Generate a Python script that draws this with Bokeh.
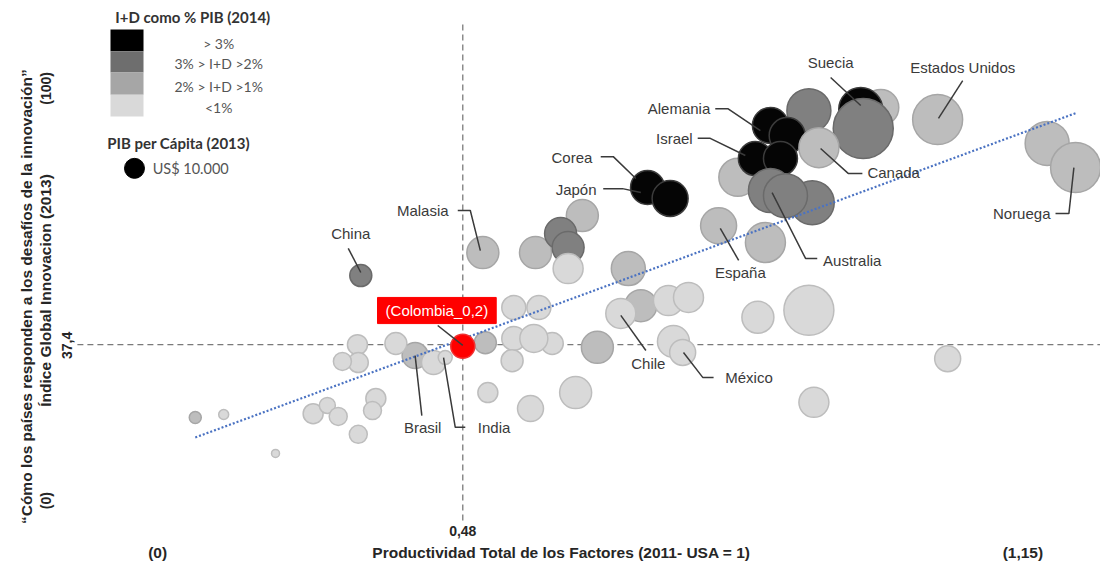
import numpy as np
from bokeh.plotting import figure
from bokeh.models import Range1d, ColumnDataSource
from bokeh.core.properties import value
from bokeh.embed import file_html
from bokeh.resources import INLINE

# ---------------- data ----------------
countries = ["", "Suecia", "", "", "Estados Unidos", "", "Noruega", "",
             "Alemania", "", "Israel", "", "Canada",
             "", "Australia", "", "Corea", "Japón", "España", "", "",
             "Malasia", "", "", "", "", "", "China",
             "", "Chile", "", "", "", "",
             "", "", "", "", "", "", "", "", "México",
             "", "", "", "", "", "", "Brasil", "", "India",
             "", "", "", "", "", "", "", "", "", "", "", ""]
tfp = [0.980, 0.956, 0.894, 0.959, 1.048, 1.179, 1.213, 0.809,
       0.848, 0.868, 0.830, 0.860, 0.906,
       0.898, 0.848, 0.866, 0.701, 0.728, 0.786, 0.842, 0.678,
       0.504, 0.567, 0.623, 0.597, 0.606, 0.606, 0.358,
       0.693, 0.669, 0.726, 0.750, 0.833, 0.894,
       0.541, 0.571, 0.541, 0.587, 0.565, 0.539, 0.641, 0.732, 0.743,
       0.615, 0.561, 0.510, 0.900, 1.060, 0.507, 0.423, 0.445, 0.459,
       0.400, 0.354, 0.355, 0.336, 0.376, 0.372, 0.301, 0.318, 0.331, 0.355,
       0.160, 0.194, 0.256]
gii = [98.2, 97.7, 97.4, 92.8, 95.1, 89.0, 82.8, 80.3,
       93.6, 91.0, 85.1, 85.1, 87.9,
       73.8, 76.9, 75.6, 77.7, 74.9, 67.9, 63.6, 56.9,
       61.0, 61.0, 70.5, 65.9, 62.3, 56.9, 55.1,
       47.4, 45.4, 48.7, 49.5, 44.4, 46.2,
       46.9, 46.9, 39.0, 37.7, 39.0, 33.3, 36.7, 38.2, 35.4,
       25.1, 21.0, 25.1, 22.6, 33.8, 37.9, 34.6, 32.8, 34.1,
       37.7, 37.4, 32.8, 33.1, 23.6, 20.5, 19.7, 21.8, 19.0, 14.4,
       18.7, 19.5, 9.5]
gdp_pc = [32400, 48400, 48400, 90000, 62500, 48400, 62500, 36100,
          32400, 32400, 28900, 28900, 40000,
          48400, 48400, 48400, 28900, 32400, 32400, 40000, 28900,
          25600, 25600, 25600, 25600, 25600, 22500, 12100,
          25600, 22500, 22500, 22500, 25600, 62500,
          14400, 14400, 14400, 12100, 19600, 12100, 25600, 25600, 16900,
          25600, 16900, 10000, 22500, 16900, 12100, 16900, 14400, 4900,
          12100, 10000, 10000, 8100, 10000, 8100, 10000, 6400, 8100, 8100,
          3600, 2500, 1600]
rd_cat = ["c", "a", "b", "b", "c", "c", "c", "c",
          "a", "a", "a", "a", "c",
          "b", "b", "b", "a", "a", "c", "c", "c",
          "c", "c", "c", "b", "b", "d", "b",
          "c", "d", "d", "d", "d", "d",
          "d", "d", "d", "d", "d", "d", "c", "d", "d",
          "d", "d", "d", "d", "d", "c", "c", "d", "d",
          "d", "d", "d", "d", "d", "d", "d", "d", "d", "d",
          "c", "d", "d"]

colombia_tfp, colombia_gii, colombia_gdp = 0.48, 37.0, 14400
ref_tfp, ref_gii = 0.48, 37.4
trend_tfp = [0.160, 1.215]
trend_gii = [13.6, 96.9]

legend_cats = ["a", "b", "c", "d"]
legend_labels = ["> 3%", "3% > I+D >2%", "2% > I+D >1%", "<1%"]
legend_gdp = 10000

# ---------------- styles ----------------
fill = {"a": "#050505", "b": "#808080", "c": "#bdbdbd", "d": "#d9d9d9"}
edge = {"a": "#3c3c3c", "b": "#6a6a6a", "c": "#a6a6a6", "d": "#bdbdbd"}
legend_fill = {"a": "#000000", "b": "#6e6e6e", "c": "#a6a6a6", "d": "#d9d9d9"}
LBL = value("Liberation Sans")
AX = value("Liberation Sans")
LEG = value("Lato")


def size_of(g):
    return 20.0 * np.sqrt(np.asarray(g, dtype=float) / 10000.0)


p = figure(width=1100, height=565, output_backend="svg", toolbar_location=None,
           x_axis_location=None, y_axis_location=None, min_border=0,
           x_range=Range1d(-0.07297, 1.24282), y_range=Range1d(-19.231, 125.641))
p.outline_line_color = None
p.grid.visible = False
p.background_fill_color = "white"
p.border_fill_color = "white"

# reference lines
p.line([0.019, 1.25], [ref_gii, ref_gii], line_color="#7a7a7a", line_width=1.3, line_dash="6 4")
p.line([ref_tfp, ref_tfp], [-7.7, 120.5], line_color="#7a7a7a", line_width=1.3, line_dash="6 4")

# bubbles
src = ColumnDataSource(dict(x=tfp, y=gii, s=size_of(gdp_pc),
                            f=[fill[c] for c in rd_cat], e=[edge[c] for c in rd_cat]))
p.scatter("x", "y", size="s", source=src, fill_color="f", line_color="e", line_width=1.5)

# trend line
p.line(trend_tfp, trend_gii, line_color="#4a72c2", line_width=2.2, line_dash="2 2")

# Colombia
p.scatter([colombia_tfp], [colombia_gii], size=size_of([colombia_gdp]),
          fill_color="#ff0000", line_color="#f03030", line_width=1.5)
p.quad(left=[0.378], right=[0.520], bottom=[42.8], top=[49.5],
       fill_color="#ff0000", line_color="#ff0000")
p.text([0.449], [46.2], text=["(Colombia_0,2)"], text_color="white", text_font=LBL,
       text_font_size="15px", text_align="center", text_baseline="middle")

# leader lines
leaders = [
    ([0.920, 0.956], [105.9, 98.7]),
    ([1.078, 1.049], [105.1, 95.4]),
    ([0.782, 0.797, 0.836], [97.9, 97.9, 92.3]),
    ([0.761, 0.776, 0.818], [90.3, 90.3, 85.9]),
    ([0.908, 0.941, 0.958], [87.7, 81.3, 81.3]),
    ([1.189, 1.205, 1.211], [71.0, 71.0, 82.8]),
    ([0.850, 0.890, 0.904], [76.4, 59.5, 59.5]),
    ([0.788, 0.810], [67.2, 59.0]),
    ([0.645, 0.660, 0.687], [85.6, 85.6, 80.0]),
    ([0.648, 0.671, 0.693], [77.4, 77.4, 76.4]),
    ([0.474, 0.489, 0.501], [71.8, 71.8, 61.5]),
    ([0.343, 0.358], [62.1, 55.9]),
    ([0.450, 0.480], [42.3, 37.2]),
    ([0.423, 0.431], [34.6, 19.2]),
    ([0.457, 0.471, 0.483], [34.1, 16.2, 16.2]),
    ([0.669, 0.699], [44.9, 35.9]),
    ([0.744, 0.767, 0.780], [35.4, 29.0, 29.0]),
]
p.multi_line([l[0] for l in leaders], [l[1] for l in leaders],
              line_color="#3a3a3a", line_width=1.5)

# country labels
labels = [
    ("Suecia", 0.920, 109.7, "center"),
    ("Estados Unidos", 1.078, 108.5, "center"),
    ("Alemania", 0.776, 97.9, "right"),
    ("Israel", 0.755, 90.3, "right"),
    ("Canada", 0.964, 81.5, "left"),
    ("Noruega", 1.183, 71.0, "right"),
    ("Australia", 0.911, 59.0, "left"),
    ("España", 0.812, 55.9, "center"),
    ("Corea", 0.635, 85.4, "right"),
    ("Japón", 0.640, 77.2, "right"),
    ("Malasia", 0.463, 71.8, "right"),
    ("China", 0.346, 65.9, "center"),
    ("Brasil", 0.432, 16.2, "center"),
    ("India", 0.498, 16.2, "left"),
    ("Chile", 0.702, 32.6, "center"),
    ("México", 0.794, 29.0, "left"),
]
for t, x, y, a in labels:
    p.text([x], [y], text=[t], text_color="#3a3a3a", text_font=LBL,
           text_font_size="15px", text_align=a, text_baseline="middle")

# axis texts
def axis_text(x, y, t, size="15.5px", angle=0.0):
    p.text([x], [y], text=[t], text_color="#262626", text_font=AX, text_font_style="bold",
           text_font_size=size, text_align="center", text_baseline="middle", angle=angle)

axis_text(0.48, -10.3, "0,48", size="14px")
axis_text(0.115, -16.0, "(0)")
axis_text(0.598, -16.0, "Productividad Total de los Factores (2011- USA = 1)")
axis_text(1.150, -16.0, "(1,15)")
axis_text(-0.0419, 49.7, "“Cómo los países responden a los desafíos de la innovación”", angle=np.pi / 2)
axis_text(-0.0191, 51.3, "Índice Global Innovacion (2013)", angle=np.pi / 2)
axis_text(-0.0191, 103.1, "(100)", size="14px", angle=np.pi / 2)
axis_text(-0.0191, -2.6, "(0)", size="14px", angle=np.pi / 2)
axis_text(0.006, 37.2, "37,4", size="14px", angle=np.pi / 2)

# legend
edges_y = [118.2, 112.6, 107.2, 101.5, 95.9]
p.quad(left=[0.0586] * 4, right=[0.0981] * 4, top=edges_y[:-1], bottom=edges_y[1:],
       fill_color=[legend_fill[c] for c in legend_cats], line_color=None)
for lab, y in zip(legend_labels, [114.6, 109.5, 103.6, 98.2]):
    p.text([0.188], [y], text=[lab], text_color="#555555", text_font=LEG,
           text_font_size="14px", text_align="center", text_baseline="middle")
p.text([0.157], [121.3], text=["I+D como % PIB (2014)"], text_color="#333333", text_font=LEG,
       text_font_style="bold", text_font_size="15px", text_align="center", text_baseline="middle")
p.text([0.140], [89.0], text=["PIB per Cápita (2013)"], text_color="#333333", text_font=LEG,
       text_font_style="bold", text_font_size="15px", text_align="center", text_baseline="middle")
p.scatter([0.0873], [82.6], size=size_of([legend_gdp]), fill_color="black", line_color="black")
p.text([0.109], [82.6], text=["US$ 10.000"], text_color="#555555", text_font=LEG,
       text_font_size="14.5px", text_align="left", text_baseline="middle")

open("out.html", "w").write(file_html(p, INLINE))
